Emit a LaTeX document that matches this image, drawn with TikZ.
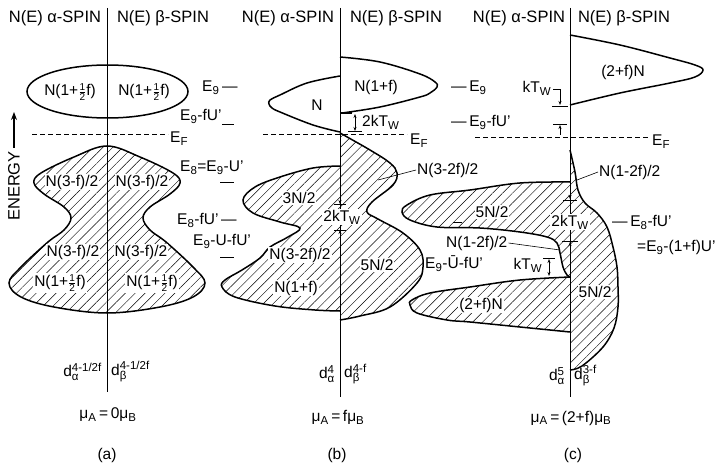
\documentclass[tikz,border=0pt]{standalone}
\usepackage{fontspec}
\setmainfont{Liberation Sans}
\usetikzlibrary{arrows.meta,patterns.meta,positioning}

\newcommand\supfont{\fontsize{11.5}{12}\selectfont}
\newcommand\sbs[1]{$_{\mbox{\supfont #1}}$}
\newcommand\dlev[2]{d$^{\mbox{\supfont #2}}_{\mbox{\supfont #1}}$}
\newcommand\halff{$\frac{\mbox{\fontsize{10}{10}\selectfont 1}}{\mbox{\fontsize{10}{10}\selectfont 2}}$}

\begin{document}
\begin{tikzpicture}[x=1pt,y=-1pt,
        axis/.style={line width=0.9pt},
        outline/.style={line width=1.5pt},
        hatched/.style={pattern={Lines[angle=45,distance=7pt,line width=0.45pt]}},
        efline/.style={dash pattern=on 5pt off 3pt, line width=0.6pt},
        hdr/.style={font=\fontsize{16.5}{18}\selectfont, inner sep=0pt},
        lbl/.style={font=\fontsize{15.5}{17}\selectfont, inner sep=1pt},
        inlbl/.style={lbl, fill=white},
        tick/.style={line width=0.7pt},
        dimarr/.style={{Stealth[length=4pt,width=3pt]}-{Stealth[length=4pt,width=3pt]}, line width=0.6pt},
        dimtip/.style={-{Stealth[length=4pt,width=3pt]}, line width=0.6pt}
    ]
        \useasboundingbox (0,0) rectangle (717,468);

        % energy arrow
        \node[hdr, rotate=90] (energy) at (14,186) {ENERGY};
        \draw[-{Stealth[length=8pt,width=6pt]}, line width=1.3pt] (energy.east) ++(0,-3) -- (14,112);

        % ---------- (a) ----------
        \draw[outline] (107.5,91.5) ellipse [x radius=80.5, y radius=26.5];
        \draw[outline, hatched] plot[smooth cycle, tension=0.6] coordinates {
            (107,146) (140,157) (173,173) (180,183) (170,194) (150,207) (143,218)
            (150,230) (166,242) (193,267) (205,283) (193,297) (160,307) (107,313)
            (54,307) (21,297) (9,283) (21,267) (48,242) (64,230) (71,218)
            (64,207) (44,194) (34,183) (41,173) (74,157)};
        \draw[efline] (32,134) -- (168,134);

        \node[hdr] (ha1) at (55,18) {N(E) α-SPIN};
        \node[hdr] (ha2) at (163,18) {N(E) β-SPIN};
        \node[lbl] (a1) at (70,92) {N(1+\halff f)};
        \node[lbl] (a2) at (144,92) {N(1+\halff f)};
        \node[inlbl] (a3) at (72,182) {N(3-f)/2};
        \node[inlbl] (a4) at (142,182) {N(3-f)/2};
        \node[inlbl] (a5) at (73,252) {N(3-f)/2};
        \node[inlbl] (a6) at (141,252) {N(3-f)/2};
        \node[inlbl] (a7) at (60,283) {N(1+\halff f)};
        \node[inlbl] (a8) at (152,283) {N(1+\halff f)};

        \node[lbl, anchor=west] (ea1) at (201,88) {E\sbs{9}\,—};
        \node[lbl, anchor=west] (ea2) at (179,116) {E\sbs{9}-fU'};
        \node[lbl, anchor=west] (ea3) at (169,139) {E\sbs{F}};
        \node[lbl, anchor=west] (ea4) at (179,168) {E\sbs{8}=E\sbs{9}-U'};
        \node[lbl, anchor=west] (ea5) at (176,220) {E\sbs{8}-fU'\,—};
        \node[lbl, anchor=west] (ea6) at (192,241) {E\sbs{9}-U-fU'};
        \draw[tick] (222,124) -- (234,124);
        \draw[tick] (220,182) -- (234,182);
        \draw[tick] (220,257) -- (234,257);

        \draw[axis] (107,8) -- (107,392);
        \node[lbl, anchor=east] (da1) at (103,372) {\dlev{α}{4-1/2f}};
        \node[lbl, anchor=west] (da2) at (110,372) {\dlev{β}{4-1/2f}};
        \node[lbl] (mua) at (108,415) {μ\sbs{A}\,=\,0μ\sbs{B}};
        \node[lbl] (capa) at (107,455) {(a)};

        % ---------- (b) ----------
        \draw[outline] plot[smooth, tension=0.6] coordinates {
            (340,57) (380,62) (420,74) (435,82) (437,87) (430,93) (420,97) (380,107) (342,113)};
        \draw[outline] (340,113) -- (352,113);
        \draw[outline] plot[smooth, tension=0.6] coordinates {
            (340,76) (307,83) (280,95) (270,100) (269,104) (272,108) (280,112) (313,125) (340,132)};
        \draw[outline, hatched] plot[smooth, tension=0.6] coordinates {
            (340,133) (370,150) (390,163) (397,173) (393,185) (372,202) (367,212) (378,219)
            (403,233) (420,250) (423,267) (417,283) (390,307) (360,316) (340,320)};
        \draw[outline, hatched] plot[smooth, tension=0.6] coordinates {
            (340,166) (313,168) (280,177) (255,187) (243,200) (253,213) (280,222) (300,228)
            (288,237) (270,247) (260,258) (242,270) (225,280) (222,287) (235,297) (275,306)
            (315,310) (340,311)};
        \draw[efline] (263,134) -- (407,134);

        \node[hdr] (hb1) at (288,18) {N(E) α-SPIN};
        \node[hdr] (hb2) at (396,18) {N(E) β-SPIN};
        \node[lbl] (b1) at (317,105) {N};
        \node[lbl] (b2) at (376,87) {N(1+f)};
        \node[inlbl] (b3) at (299,198) {3N/2};
        \node[inlbl] (b4) at (300,255) {N(3-2f)/2};
        \node[inlbl] (b5) at (296,288) {N(1+f)};
        \node[inlbl] (b6) at (377,265) {5N/2};

        \draw[dimarr] (355,114) -- (355,131);
        \draw[tick] (348,131) -- (362,131);
        \node[lbl, anchor=west] (kb1) at (361,122) {2kT\sbs{W}};
        \node[lbl, anchor=west] (eb1) at (409,141) {E\sbs{F}};
        \node[lbl, anchor=west] (eb2) at (450,88) {—\,E\sbs{9}};
        \node[lbl, anchor=west] (eb3) at (450,122) {—\,E\sbs{9}-fU'};
        \node[lbl, anchor=west] (cb1) at (416,170) {N(3-2f)/2};
        \draw[line width=0.6pt] (cb1.west) -- (378,180);

        \draw[axis] (340,8) -- (340,397);
        \node[inlbl] (kb2) at (342,217) {2kT\sbs{W}};
        \draw[tick] (334,204) -- (346,204);
        \draw[dimtip] (340,196) -- (340,204);
        \draw[tick] (334,230) -- (346,230);
        \draw[dimtip] (340,238) -- (340,230);
        \node[lbl, anchor=east] (db1) at (336,374) {\dlev{α}{4}};
        \node[lbl, anchor=west] (db2) at (343,374) {\dlev{β}{4-f}};
        \node[lbl] (mub) at (338,417) {μ\sbs{A}\,=\,fμ\sbs{B}};
        \node[lbl] (capb) at (337,455) {(b)};

        % ---------- (c) ----------
        \draw[outline] plot[smooth, tension=0.6] coordinates {
            (570,35) (620,45) (670,58) (695,65) (703,70) (695,77) (670,83) (620,93) (570,105)};
        \draw[outline, hatched] plot[smooth, tension=0.6] coordinates {
            (570,150) (575,172) (578,190) (585,203) (597,213) (607,227) (613,247) (617,267)
            (618,287) (618,307) (614,328) (603,347) (582,366) (570,370)};
        \draw[outline, hatched] plot[smooth, tension=0.6] coordinates {
            (570,182) (520,183) (470,190) (430,195) (407,205) (402,212) (410,220) (437,227)
            (480,228) (520,232) (547,237) (557,243) (560,253) (563,267) (567,275) (570,277)};
        \draw[outline, hatched] plot[smooth, tension=0.6] coordinates {
            (570,277) (520,280) (470,287) (430,293) (412,300) (410,305) (417,313) (447,320)
            (470,322) (520,327) (570,332)};
        \draw[efline] (475,137) -- (650,137);

        \node[hdr] (hc1) at (519,18) {N(E) α-SPIN};
        \node[hdr] (hc2) at (624,18) {N(E) β-SPIN};
        \node[lbl] (c1) at (623,72) {(2+f)N};
        \node[inlbl] (c2) at (492,212) {5N/2};
        \node[inlbl] (c3) at (481,305) {(2+f)N};
        \node[inlbl] (c4) at (595,292) {5N/2};

        \node[lbl] (kc1) at (537,88) {kT\sbs{W}};
        \draw[dimtip] (553,89) -- (560,89) -- (560,105);
        \draw[tick] (552,106) -- (568,106);
        \draw[tick] (553,124) -- (567,124);
        \draw[dimtip] (560,135) -- (560,125);
        \node[lbl, anchor=west] (ec1) at (651,142) {E\sbs{F}};
        \node[lbl, anchor=west] (cc1) at (598,172) {N(1-2f)/2};
        \draw[line width=0.6pt] (cc1.west) -- (577,180);
        \node[lbl, anchor=west] (ec2) at (611,222) {—\,E\sbs{8}-fU'};
        \node[lbl, anchor=west] (ec3) at (636,247) {=E\sbs{9}-(1+f)U'};
        \node[inlbl, anchor=west] (cc2) at (445,243) {N(1-2f)/2};
        \draw[line width=0.6pt] (cc2.east) -- (560,250);
        \node[inlbl, anchor=west] (ec4) at (424,264) {E\sbs{9}-Ū-fU'};
        \draw[tick] (453,222) -- (462,222);
        \node[inlbl] (kc3) at (528,265) {kT\sbs{W}};
        \draw[dimarr] (549,259) -- (549,276);
        \draw[tick] (543,258) -- (555,258);

        \draw[axis] (570,8) -- (570,397);
        \node[inlbl] (kc2) at (570,222) {2kT\sbs{W}};
        \draw[dimtip] (570,190) -- (570,199);
        \draw[tick] (563,200) -- (577,200);
        \draw[tick] (562,241) -- (578,241);
        \draw[dimtip] (570,250) -- (570,242);
        \node[lbl, anchor=east] (dc1) at (566,376) {\dlev{α}{5}};
        \node[lbl, anchor=west] (dc2) at (573,376) {\dlev{β}{3-f}};
        \node[lbl] (muc) at (571,418) {μ\sbs{A}\,=\,(2+f)μ\sbs{B}};
        \node[lbl] (capc) at (573,455) {(c)};
\end{tikzpicture}
\end{document}
